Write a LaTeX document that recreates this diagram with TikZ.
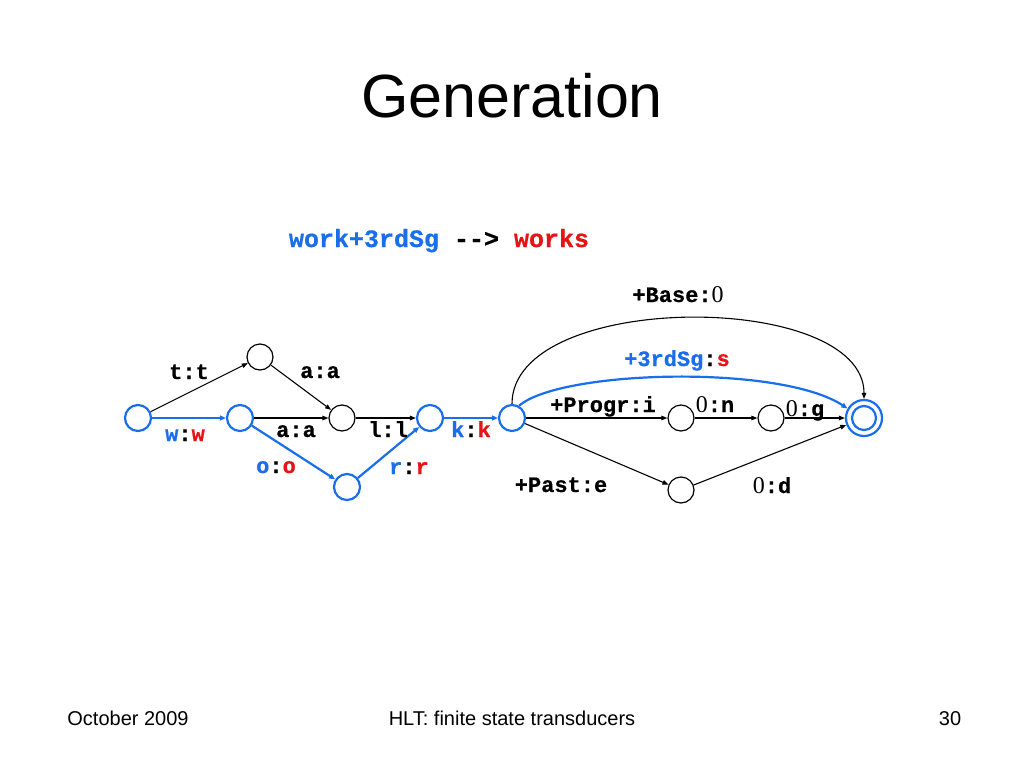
\documentclass[tikz,border=0pt]{standalone}
\usepackage{fontspec}
\setmainfont{Liberation Sans}
\newfontfamily\monob{Liberation Mono}[BoldFont={Liberation Mono Bold},BoldFeatures={FakeBold=0.6}]
\newfontfamily\serifz{Liberation Serif}
\usetikzlibrary{arrows.meta}
\definecolor{myblue}{RGB}{25,110,235}
\definecolor{myred}{RGB}{230,20,20}
\newcommand{\B}[1]{\textcolor{myblue}{#1}}
\newcommand{\R}[1]{\textcolor{myred}{#1}}
\newcommand{\Z}{{\serifz\mdseries\fontsize{24}{24}\selectfont 0}}
\begin{document}
\begin{tikzpicture}[x=1pt,y=-1pt,
  st/.style={circle,draw=black,line width=1.2pt,minimum size=26pt,inner sep=0pt},
  bst/.style={st,draw=myblue,line width=2.2pt},
  tr/.style={line width=1.1pt,-{Triangle[length=6pt,width=4.5pt]}},
  btr/.style={line width=2.2pt,draw=myblue,-{Triangle[length=6pt,width=5pt]},myblue},
  lab/.style={font=\monob\bfseries\fontsize{22}{22}\selectfont,anchor=base,inner sep=0pt},
  foot/.style={font=\fontsize{20}{20}\selectfont,anchor=base,inner sep=0pt}]
\useasboundingbox (0,0) rectangle (1024,768);
\fill[white] (0,0) rectangle (1024,768);
\node[font=\fontsize{61}{61}\selectfont,anchor=base,inner sep=0pt] (title) at (512,117) {Generation};
\node[font=\monob\bfseries\fontsize{25}{25}\selectfont,anchor=base,inner sep=0pt] (ex) at (439,247) {\B{work+3rdSg} --> \R{works}};
% states
\node[bst] (q0) at (138,418) {};
\node[bst] (q1) at (240,418) {};
\node[st] (qt) at (260,357) {};
\node[st] (q2) at (342,418) {};
\node[bst] (qr) at (347,487) {};
\node[bst] (q3) at (430,418) {};
\node[bst] (q4) at (512,418) {};
\node[st] (q5) at (681,418) {};
\node[st] (q6) at (771,418) {};
\node[st] (qP) at (681,490) {};
\node[circle,draw=myblue,line width=2.2pt,minimum size=36pt,inner sep=0pt] (qF) at (864,418) {};
\node[circle,draw=myblue,line width=2.2pt,minimum size=24pt,inner sep=0pt] (qFi) at (864,418) {};
% transitions
\draw[tr] (q0) -- (qt);
\draw[tr] (qt) -- (q2);
\draw[tr] (q1) -- (q2);
\draw[tr] (q2) -- (q3);
\draw[btr] (q0) -- (q1);
\draw[btr] (q1) -- (qr);
\draw[btr] (qr) -- (q3);
\draw[btr] (q3) -- (q4);
\draw[tr] (q4) -- (q5);
\draw[tr] (q5) -- (q6);
\draw[tr] (q6) -- (qF);
\draw[tr] (q4) -- (qP);
\draw[tr] (qP) -- (qF);
\draw[tr] (q4.north) .. controls (512,290) and (864,290) .. (qF.north);
\draw[btr] (q4.60) .. controls (560,370) and (780,364) .. (qF.150);
% labels
\node[lab] (l1) at (189,379) {t:t};
\node[lab] (l2) at (320,378) {a:a};
\node[lab] (l3) at (185,441) {\B{w}:\R{w}};
\node[lab] (l4) at (296,437) {a:a};
\node[lab] (l5) at (388,437) {l:l};
\node[lab] (l6) at (471,437) {\B{k}:\R{k}};
\node[lab] (l7) at (276,473) {\B{o}:\R{o}};
\node[lab] (l8) at (409,474) {\B{r}:\R{r}};
\node[lab] (l9) at (678,302) {+Base:\Z};
\node[lab] (l10) at (677,366) {\B{+3rdSg}:\R{s}};
\node[lab] (l11) at (603,412) {+Progr:i};
\node[lab] (l12) at (715,412) {\Z:n};
\node[lab] (l13) at (805,416) {\Z:g};
\node[lab] (l14) at (561,492) {+Past:e};
\node[lab] (l15) at (772,493) {\Z:d};
% footer
\node[foot] (f1) at (128,725) {October 2009};
\node[foot] (f2) at (512,725) {HLT: finite state transducers};
\node[foot] (f3) at (950,725) {30};
\end{tikzpicture}
\end{document}
